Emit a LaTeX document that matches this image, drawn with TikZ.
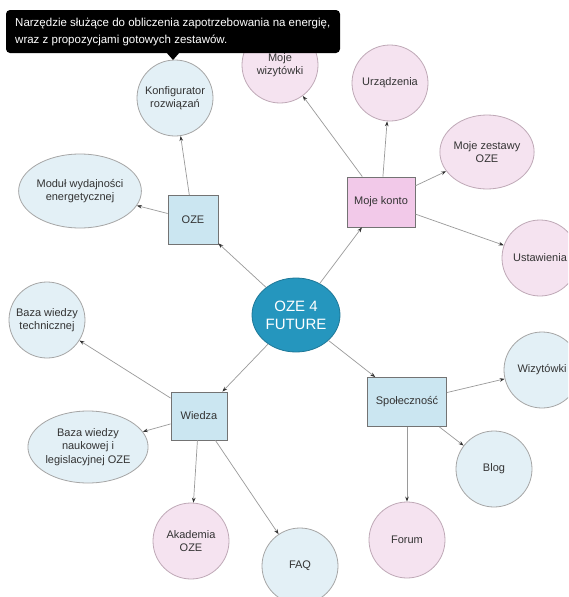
\documentclass[tikz,border=0pt]{standalone}
\usepackage{fontspec}
\setmainfont{Liberation Sans}
\usetikzlibrary{shapes.geometric,arrows.meta}
\definecolor{lblue}{HTML}{E3F0F6}
\definecolor{lpink}{HTML}{F5E3F0}
\definecolor{rblue}{HTML}{CBE6F1}
\definecolor{rpink}{HTML}{F2C9E9}
\definecolor{cblue}{HTML}{2596BE}
\definecolor{bord}{HTML}{A6A6A6}
\definecolor{pbord}{HTML}{BFA9B7}
\definecolor{edgec}{HTML}{9A9A9A}
\definecolor{txt}{HTML}{333333}
\tikzset{
  leaf/.style={circle,draw=bord,line width=0.8pt,fill=lblue,minimum size=76pt,inner sep=0pt,align=center,text=txt,font=\fontsize{11}{13.5}\selectfont},
  pleaf/.style={leaf,draw=pbord,fill=lpink},
  eleaf/.style={ellipse,draw=bord,line width=0.8pt,fill=lblue,inner sep=0pt,align=center,text=txt,font=\fontsize{11}{13.5}\selectfont},
  hub/.style={rectangle,draw=gray!90!black,line width=0.8pt,fill=rblue,inner sep=0pt,align=center,text=txt,font=\fontsize{11}{13.5}\selectfont},
  conn/.style={draw=edgec,line width=0.7pt,-{Stealth[length=5pt,width=3.6pt,color=black!80]}}
}
\begin{document}
\begin{tikzpicture}[x=1pt,y=-1pt]
\useasboundingbox (0,0) rectangle (568,597);
\clip (0,0) rectangle (568,597);
\fill[white] (0,0) rectangle (568,597);
% centre
\node[ellipse,draw=cblue!80!black,line width=0.8pt,fill=cblue,minimum width=88pt,minimum height=74pt,inner sep=0pt,align=center,text=white,font=\fontsize{15}{18}\selectfont] (c) at (296,315) {OZE 4\\FUTURE};
% hubs
\node[hub,minimum width=50pt,minimum height=49pt] (oze) at (193,220) {OZE};
\node[hub,fill=rpink,minimum width=68pt,minimum height=50pt] (konto) at (381,202) {Moje konto};
\node[hub,minimum width=56pt,minimum height=48pt] (wiedza) at (199,416) {Wiedza};
\node[hub,minimum width=79pt,minimum height=49pt] (spol) at (407,402) {Społeczność};
% leaves
\node[leaf] (konf) at (175,98) {Konfigurator\\rozwiązań};
\node[eleaf,minimum width=106pt,minimum height=74pt] (modul) at (80,191) {Moduł wydajności\\energetycznej};
\node[pleaf] (wiz) at (280,65) {Moje\\wizytówki};
\node[pleaf] (urz) at (390,83) {Urządzenia};
\node[eleaf,draw=pbord,fill=lpink,minimum width=88pt,minimum height=74pt] (zest) at (487,152) {Moje zestawy\\OZE};
\node[pleaf] (ust) at (540,258) {Ustawienia};
\node[leaf] (btech) at (47,320) {Baza wiedzy\\technicznej};
\node[eleaf,minimum width=112pt,minimum height=72pt] (bnauk) at (88,447) {Baza wiedzy\\naukowej i\\legislacyjnej OZE};
\node[pleaf] (akad) at (191,541) {Akademia\\OZE};
\node[leaf] (faq) at (300,566) {FAQ};
\node[leaf] (wizyt) at (542,370) {Wizytówki};
\node[leaf] (blog) at (494,469) {Blog};
\node[pleaf] (forum) at (407,540) {Forum};
% connectors
\draw[conn] (c) -- (oze);
\draw[conn] (c) -- (konto);
\draw[conn] (c) -- (wiedza);
\draw[conn] (c) -- (spol);
\draw[conn] (oze) -- (konf);
\draw[conn] (oze) -- (modul);
\draw[conn] (konto) -- (wiz);
\draw[conn] (konto) -- (urz);
\draw[conn] (konto) -- (zest);
\draw[conn] (konto) -- (ust);
\draw[conn] (wiedza) -- (btech);
\draw[conn] (wiedza) -- (bnauk);
\draw[conn] (wiedza) -- (akad);
\draw[conn] (wiedza) -- (faq);
\draw[conn] (spol) -- (wizyt);
\draw[conn] (spol) -- (blog);
\draw[conn] (spol) -- (forum);
% tooltip
\fill[black,rounded corners=4pt] (6,10) rectangle (340,53);
\fill[black] (166,52) -- (180,52) -- (173,60) -- cycle;
\node[anchor=north west,inner sep=0pt,align=left,text=white,font=\fontsize{11.5}{16.5}\selectfont] (tip) at (15,18) {Narzędzie służące do obliczenia zapotrzebowania na energię,\\wraz z propozycjami gotowych zestawów.};
\end{tikzpicture}
\end{document}
